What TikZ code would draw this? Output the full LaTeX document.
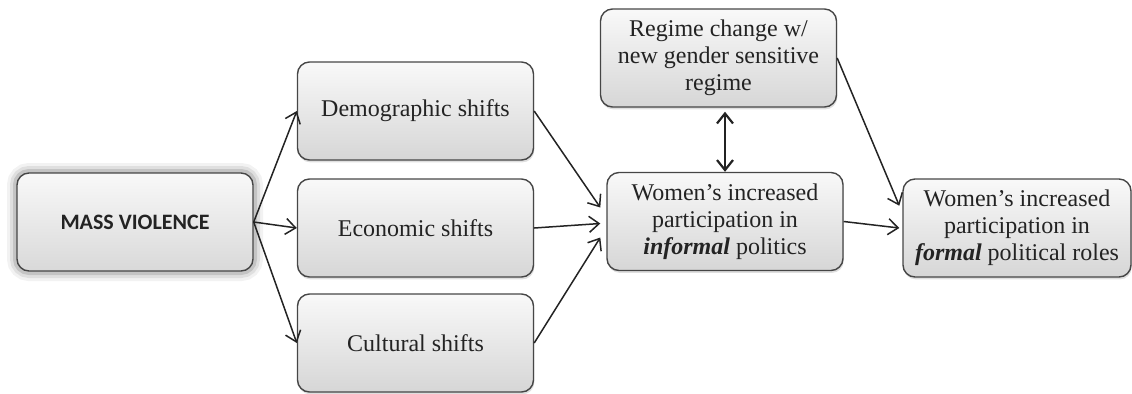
\documentclass[tikz,border=0pt]{standalone}
\usepackage{fontspec}
\setmainfont{Liberation Serif}
\newfontfamily\calibrifont{Carlito}
\usetikzlibrary{arrows.meta, shadows}
\definecolor{boxline}{RGB}{70,70,70}
\definecolor{boxtext}{RGB}{35,35,35}
\tikzset{
    % Flow boxes
    fbox/.style={rectangle, rounded corners=6pt, draw=boxline, line width=0.7pt,
                top color=gray!5, bottom color=gray!32, text=boxtext,
                minimum width=118pt, minimum height=49pt, align=center,
                font=\fontsize{12}{13.5}\selectfont,
                drop shadow={shadow xshift=0.4pt, shadow yshift=-1.2pt, opacity=0.25}},
    % Source box with glow
    gbox/.style={rectangle, rounded corners=6pt, draw=boxline, line width=0.7pt,
                top color=gray!5, bottom color=gray!30, text=boxtext,
                minimum width=118pt, minimum height=49pt, align=center,
                font=\calibrifont\fontsize{11}{13}\selectfont\bfseries,
                general shadow={draw=black, line width=10pt, opacity=0.05},
                general shadow={draw=black, line width=7pt, opacity=0.08},
                general shadow={draw=black, line width=4pt, opacity=0.12}},
    farrow/.style={-{Straight Barb[length=5pt, width=8pt]}, line width=0.75pt, boxtext},
    fdarrow/.style={{Straight Barb[length=5pt, width=8pt]}-{Straight Barb[length=5pt, width=8pt]},
                line width=1.1pt, boxtext},
}

\begin{document}
\begin{tikzpicture}[x=0.5pt, y=-0.5pt]
\useasboundingbox (0,0) rectangle (1132,393);

\node[gbox] (mass)   at (135,222)    {MASS VIOLENCE};
\node[fbox] (demo)   at (415.5,111)  {Demographic shifts};
\node[fbox] (econ)   at (415.5,228)  {Economic shifts};
\node[fbox] (cult)   at (415.5,343)  {Cultural shifts};
\node[fbox] (regime) at (718.5,58)   {Regime change w/\\new gender sensitive\\regime};
\node[fbox] (info)   at (725,221.5)  {Women’s increased\\participation in\\\textbf{\textit{informal}} politics};
\node[fbox, minimum width=114pt] (formal) at (1017,228)
    {Women’s increased\\participation in\\\textbf{\textit{formal}} political roles};

\draw[farrow] (mass.east) -- (demo.west);
\draw[farrow] (mass.east) -- (econ.west);
\draw[farrow] (mass.east) -- (cult.west);

\draw[farrow] (demo.east) -- ([xshift=-3pt, yshift=7pt]info.west);
\draw[farrow] (econ.east) -- ([xshift=-3pt, yshift=-1pt]info.west);
\draw[farrow] (cult.east) -- ([xshift=-3pt, yshift=-8pt]info.west);

\draw[fdarrow, shorten <=2pt] (regime.south -| info.north) -- (info.north);

\draw[farrow] (info.east) -- ([xshift=-1.5pt]formal.west);
\draw[farrow] (regime.east) -- ([xshift=-1.5pt]formal.169);
\end{tikzpicture}
\end{document}
